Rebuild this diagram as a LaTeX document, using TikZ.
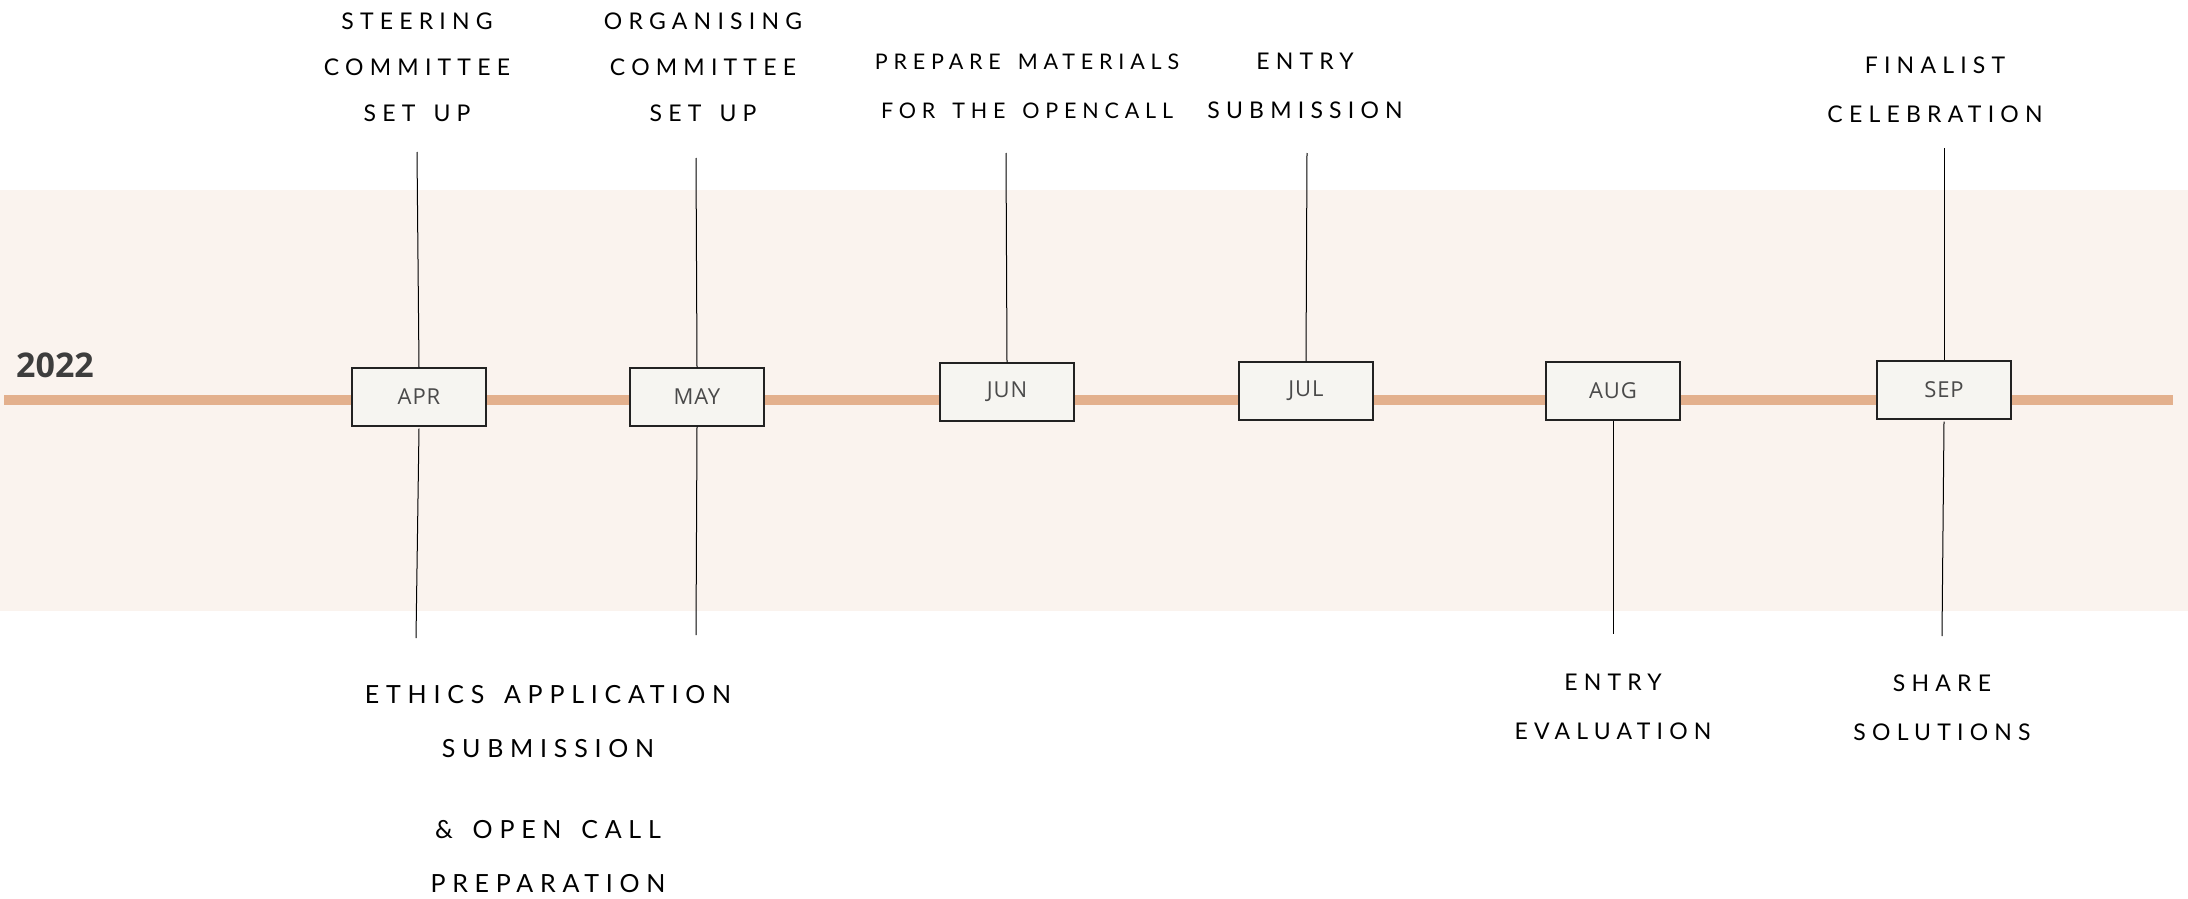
\documentclass[tikz,border=0pt]{standalone}
\usepackage{fontspec}
\newfontfamily\labelfont[LetterSpace=27, WordSpace=1.5]{Lato}
\newfontfamily\monthfont[LetterSpace=4]{Open Sans}
\newfontfamily\yearfont{Open Sans}
\definecolor{bandbg}{HTML}{FAF3EE}
\definecolor{lineorange}{HTML}{E3B08D}
\definecolor{boxfill}{HTML}{F6F5F1}
\definecolor{boxline}{HTML}{222222}
\definecolor{monthtext}{HTML}{4A4A4A}
\definecolor{yeartext}{HTML}{3D3D3D}
\begin{document}
\begin{tikzpicture}[
    x=1pt, y=-1pt,
    timeline/.style={draw=lineorange, line width=10pt},
    month/.style={rectangle, draw=boxline, fill=boxfill, line width=1.2pt, minimum width=134pt, minimum height=58pt, inner sep=0pt, text=monthtext, font=\monthfont\fontsize{22}{22}\selectfont},
    task/.style={align=center, inner sep=0pt, text=black, font=\labelfont\fontsize{23}{49}\selectfont},
    stacktask/.style={task, font=\labelfont\fontsize{23}{46}\selectfont},
    smalltask/.style={task, font=\labelfont\fontsize{21.5}{49}\selectfont},
    bigtask/.style={task, font=\labelfont\fontsize{25}{54}\selectfont},
    link/.style={draw=black, line width=1pt}
]
\useasboundingbox (0,0) rectangle (2188,899);
\fill [bandbg] (0,190) rectangle (2188,611);
\coordinate (tl-start) at (4,400);
\coordinate (tl-end) at (2173,400);
\draw [timeline] (tl-start) -- (tl-end);
\node [anchor=base west, inner sep=0pt, text=yeartext, font=\yearfont\bfseries\fontsize{34}{34}\selectfont] (year) at (16,377) {2022};

\node [month] (apr) at (419,397) {APR};
\node [month] (may) at (697,397) {MAY};
\node [month] (jun) at (1007,392) {JUN};
\node [month] (jul) at (1306,391) {JUL};
\node [month] (aug) at (1613,391) {AUG};
\node [month] (sep) at (1944,390) {SEP};

\node [stacktask] (steering) at (417,67) {STEERING\\COMMITTEE\\SET UP};
\node [stacktask] (organising) at (703,67) {ORGANISING\\COMMITTEE\\SET UP};
\node [smalltask] (materials) at (1027,86) {PREPARE MATERIALS\\FOR THE OPENCALL};
\node [task] (submission) at (1305,86) {ENTRY\\SUBMISSION};
\node [task] (finalist) at (1935,90) {FINALIST\\CELEBRATION};
\node [bigtask] (ethics) at (548,789) {ETHICS APPLICATION\\SUBMISSION\\[27pt]\&~OPEN CALL\\PREPARATION};
\node [task] (evaluation) at (1613,707) {ENTRY\\EVALUATION};
\node [task] (sharing) at (1942,708) {SHARE\\SOLUTIONS};

\coordinate (apr-up) at (417,152);
\coordinate (apr-down) at (416,638);
\coordinate (may-up) at (696,158);
\coordinate (may-down) at (696,635);
\coordinate (jun-up) at (1006,153);
\coordinate (jul-up) at (1307,153);
\coordinate (aug-down) at (1613,634);
\coordinate (sep-up) at (1944,148);
\coordinate (sep-down) at (1942,636);

\draw [link] (apr-up) -- (apr.north);
\draw [link] (apr.south) ++(0,2) -- (apr-down);
\draw [link] (may-up) -- (may.north);
\draw [link] (may.south) -- (may-down);
\draw [link] (jun-up) -- (jun.north);
\draw [link] (jul-up) -- (jul.north);
\draw [link] (aug.south) -- (aug-down);
\draw [link] (sep-up) -- (sep.north);
\draw [link] (sep.south) ++(0,2) -- (sep-down);
\end{tikzpicture}
\end{document}
